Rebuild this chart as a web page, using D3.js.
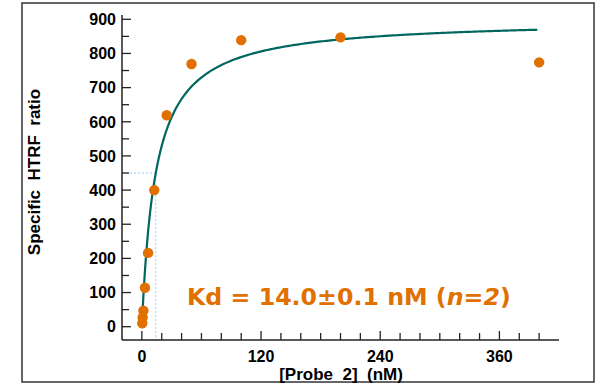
<!DOCTYPE html>
<html>
<head>
<meta charset="utf-8">
<script src="https://cdn.jsdelivr.net/npm/d3@7"></script>
<style>
  body { margin: 0; background: #fff; }
  svg { display: block; }
  text { font-family: "Liberation Sans", Arial, sans-serif; font-weight: bold; }
</style>
</head>
<body>
<svg id="chart" width="596" height="384"></svg>
<script>
// concentrations (nM) and measured specific HTRF ratio
const conc = [400, 200, 100, 50, 25, 12.5, 6.25, 3.125, 1.56, 0.78, 0.39];
const ratio = [774, 847, 839, 769, 619, 400, 216, 114, 47, 27, 10];
const xTicks = [0, 120, 240, 360];
const yTicks = [0, 100, 200, 300, 400, 500, 600, 700, 800, 900];
const kd = 14.0;
const bmax = 900;

const orange = "#E07000";
const teal = "#006660";

const svg = d3.select("#chart");

// outer frame
svg.append("rect")
    .attr("x", 22).attr("y", 3)
    .attr("width", 572).attr("height", 379)
    .attr("fill", "none")
    .attr("stroke", "#333")
    .attr("stroke-width", 1.5);

const x = d3.scaleLinear().domain([-20, 420]).range([122, 559]);
const y = d3.scaleLinear().domain([0, 900]).range([326.7, 19.3]);
const x0 = 122, yAxisY = 340;

const g = svg.append("g");

// Kd guide lines
g.append("path")
    .attr("d", `M${x0},${y(bmax / 2)}H${x(kd)}V${yAxisY}`)
    .attr("fill", "none")
    .attr("stroke", "#99CCFF")
    .attr("stroke-width", 1)
    .attr("stroke-dasharray", "2,2");

// fitted curve
const fit = [];
for (let c = 0.2; c <= 400; c += c < 20 ? 0.2 : 2) fit.push([c, bmax * c / (kd + c)]);
g.append("path")
    .datum(fit)
    .attr("fill", "none")
    .attr("stroke", teal)
    .attr("stroke-width", 2.2)
    .attr("d", d3.line().x(d => x(d[0])).y(d => y(d[1])));

// data points
g.selectAll(".dot")
    .data(conc.map((c, i) => [c, ratio[i]]))
    .enter()
    .append("circle")
        .attr("class", "dot")
        .attr("r", 5.2)
        .attr("fill", orange)
        .attr("cx", d => x(d[0]))
        .attr("cy", d => y(d[1]));

// y axis
const yAxis = svg.append("g");
yAxis.append("line")
    .attr("x1", x0).attr("x2", x0)
    .attr("y1", 15).attr("y2", yAxisY)
    .attr("stroke", "#222").attr("stroke-width", 1.5);
yAxis.selectAll(".ytick")
    .data(d3.range(0, 901, 50))
    .enter()
    .append("line")
        .attr("x1", x0)
        .attr("x2", d => x0 + (d % 100 === 0 ? 9 : 7))
        .attr("y1", d => y(d)).attr("y2", d => y(d))
        .attr("stroke", "#222").attr("stroke-width", 1.3);
yAxis.selectAll(".ylab")
    .data(yTicks)
    .enter()
    .append("text")
        .attr("x", 116)
        .attr("y", d => y(d))
        .attr("dy", "0.36em")
        .attr("text-anchor", "end")
        .attr("font-size", 16)
        .attr("fill", "#000")
        .text(d => d);

// x axis
const xAxis = svg.append("g");
xAxis.append("line")
    .attr("x1", x0).attr("x2", 559)
    .attr("y1", yAxisY).attr("y2", yAxisY)
    .attr("stroke", "#222").attr("stroke-width", 1.5);
xAxis.selectAll(".xtick")
    .data(d3.range(0, 401, 20))
    .enter()
    .append("line")
        .attr("x1", d => x(d)).attr("x2", d => x(d))
        .attr("y1", yAxisY)
        .attr("y2", d => yAxisY - (d % 120 === 0 ? 9 : 7))
        .attr("stroke", "#222").attr("stroke-width", 1.3);
xAxis.selectAll(".xlab")
    .data(xTicks)
    .enter()
    .append("text")
        .attr("x", d => x(d))
        .attr("y", 362)
        .attr("text-anchor", "middle")
        .attr("font-size", 16)
        .attr("fill", "#000")
        .text(d => d);

// axis titles
svg.append("text")
    .attr("x", 341).attr("y", 380)
    .attr("text-anchor", "middle")
    .attr("font-size", 17)
    .style("white-space", "pre")
    .text("[Probe  2]  (nM)");

svg.append("text")
    .attr("transform", "translate(40,172) rotate(-90)")
    .attr("text-anchor", "middle")
    .attr("font-size", 17)
    .style("white-space", "pre")
    .text("Specific  HTRF  ratio");

// Kd annotation
const kdText = svg.append("text")
    .attr("x", 187).attr("y", 305)
    .attr("fill", orange)
    .attr("font-size", 23.7)
    .style("font-family", "'DejaVu Sans', Verdana, sans-serif");
kdText.append("tspan").text("Kd = 14.0±0.1 nM (");
kdText.append("tspan").attr("font-style", "italic").text("n=2");
kdText.append("tspan").text(")");
</script>
</body>
</html>
